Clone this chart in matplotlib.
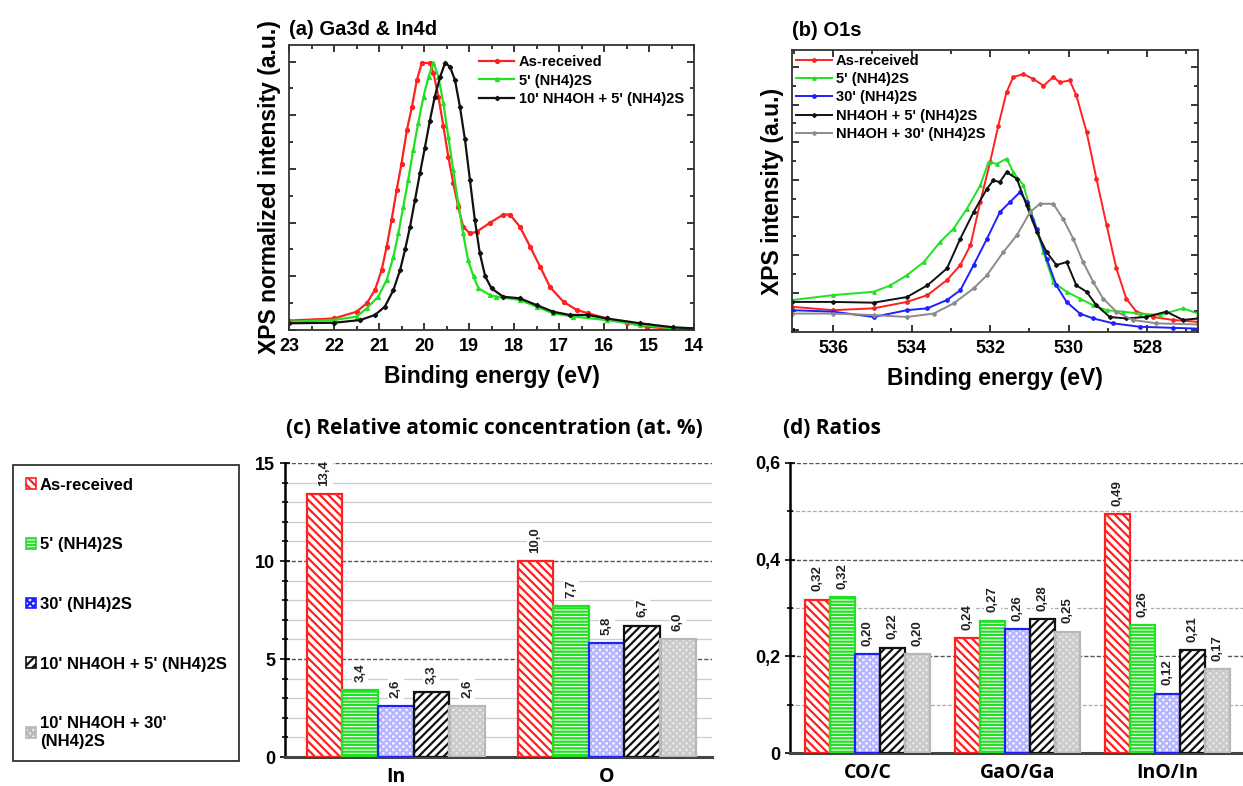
import numpy as np
import matplotlib
matplotlib.use('Agg')
import matplotlib.pyplot as plt
from matplotlib.patches import Patch
from matplotlib.ticker import MultipleLocator, FuncFormatter

plt.rcParams['font.family'] = ['Liberation Sans', 'DejaVu Sans']
plt.rcParams['font.weight'] = 'bold'
plt.rcParams['axes.labelweight'] = 'bold'
plt.rcParams['axes.titleweight'] = 'bold'
plt.rcParams['hatch.linewidth'] = 1.6

# ---- (a) Ga3d & In4d, normalized spectra ----
a_red_x = [23.0, 22.0, 21.5, 21.27, 21.09, 20.94, 20.83, 20.72, 20.61, 20.50, 20.38, 20.27,
           20.16, 20.05, 19.87, 19.79, 19.68, 19.57, 19.46, 19.35, 19.24, 19.13, 18.98, 18.83,
           18.53, 18.24, 18.09, 17.87, 17.64, 17.42, 17.2, 16.9, 16.61, 16.35, 15.94, 15.5,
           15.05, 14.46, 14.0]
a_red_y = [0.035, 0.043, 0.068, 0.10, 0.149, 0.224, 0.31, 0.41, 0.52, 0.62, 0.745, 0.83,
           0.93, 0.995, 0.995, 0.957, 0.87, 0.76, 0.646, 0.547, 0.46, 0.385, 0.36, 0.366,
           0.40, 0.43, 0.43, 0.385, 0.31, 0.236, 0.16, 0.105, 0.075, 0.062, 0.043, 0.027,
           0.012, 0.004, 0.002]
a_grn_x = [23.0, 22.0, 21.5, 21.27, 21.02, 20.83, 20.68, 20.57, 20.46, 20.35, 20.24, 20.13,
           20.01, 19.9, 19.79, 19.68, 19.57, 19.46, 19.35, 19.24, 19.13, 19.02, 18.9, 18.79,
           18.53, 18.39, 17.87, 17.5, 17.13, 16.68, 15.94, 15.2, 14.46, 14.0]
a_grn_y = [0.031, 0.037, 0.05, 0.081, 0.124, 0.186, 0.273, 0.36, 0.46, 0.56, 0.67, 0.77,
           0.87, 0.944, 0.996, 0.944, 0.845, 0.72, 0.596, 0.472, 0.36, 0.26, 0.20, 0.155,
           0.13, 0.124, 0.112, 0.087, 0.062, 0.05, 0.037, 0.019, 0.006, 0.006]
a_blk_x = [23.0, 22.0, 21.42, 21.09, 20.87, 20.68, 20.53, 20.42, 20.31, 20.2, 20.09, 19.98,
           19.87, 19.76, 19.64, 19.53, 19.42, 19.31, 19.2, 19.09, 18.98, 18.87, 18.76, 18.64,
           18.5, 18.24, 17.87, 17.5, 17.13, 16.76, 16.36, 15.94, 15.2, 14.46, 14.0]
a_blk_y = [0.025, 0.027, 0.037, 0.056, 0.087, 0.149, 0.224, 0.30, 0.385, 0.485, 0.584, 0.68,
           0.78, 0.87, 0.944, 0.996, 0.98, 0.93, 0.83, 0.71, 0.56, 0.41, 0.286, 0.20,
           0.155, 0.124, 0.118, 0.093, 0.068, 0.056, 0.056, 0.043, 0.025, 0.01, 0.006]

# ---- (b) O1s spectra ----
b_red_x = [537.04, 536.0, 534.97, 534.12, 533.6, 533.1, 532.76, 532.5, 532.25, 532.0, 531.79,
           531.58, 531.41, 531.15, 530.9, 530.64, 530.39, 530.22, 529.97, 529.8, 529.54,
           529.29, 529.03, 528.78, 528.53, 528.27, 527.85, 527.34, 526.7]
b_red_y = [0.62, 0.53, 0.58, 0.75, 0.93, 1.33, 1.73, 2.26, 3.41, 4.47, 5.44,
           6.33, 6.73, 6.81, 6.68, 6.50, 6.73, 6.59, 6.64, 6.24, 5.27,
           4.03, 2.79, 1.64, 0.84, 0.49, 0.35, 0.27, 0.22]
b_grn_x = [537.04, 536.0, 534.97, 534.54, 534.12, 533.69, 533.27, 532.93, 532.59, 532.25,
           532.04, 531.83, 531.58, 531.41, 531.15, 530.9, 530.64, 530.39, 530.05, 529.71,
           529.37, 529.03, 528.61, 528.19, 527.68, 527.08, 526.7]
b_grn_y = [0.80, 0.93, 1.02, 1.19, 1.46, 1.81, 2.35, 2.70, 3.23, 3.85,
           4.47, 4.42, 4.56, 4.20, 3.85, 2.96, 2.08, 1.28, 1.02, 0.84,
           0.66, 0.53, 0.49, 0.44, 0.40, 0.58, 0.44]
b_blu_x = [537.04, 536.0, 534.97, 534.12, 533.6, 533.1, 532.76, 532.42, 532.08, 531.75,
           531.49, 531.24, 531.07, 530.81, 530.56, 530.31, 530.05, 529.71, 529.37, 528.86,
           528.19, 527.34, 526.7]
b_blu_y = [0.53, 0.49, 0.35, 0.53, 0.58, 0.80, 1.06, 1.73, 2.43, 3.14,
           3.41, 3.67, 3.41, 2.70, 1.90, 1.19, 0.75, 0.44, 0.31, 0.18,
           0.09, 0.06, 0.04]
b_blk_x = [537.04, 536.0, 534.97, 534.12, 533.6, 533.1, 532.76, 532.42, 532.08, 531.92,
           531.75, 531.58, 531.32, 531.07, 530.81, 530.56, 530.31, 530.05, 529.8, 529.54,
           529.29, 528.95, 528.53, 528.02, 527.51, 527.08, 526.7]
b_blk_y = [0.75, 0.75, 0.73, 0.88, 1.19, 1.64, 2.43, 3.14, 3.76, 3.98,
           3.94, 4.20, 4.03, 3.32, 2.61, 2.08, 1.73, 1.81, 1.19, 1.02,
           0.66, 0.35, 0.31, 0.35, 0.49, 0.27, 0.31]
b_gry_x = [537.04, 536.0, 534.97, 534.12, 533.44, 532.93, 532.42, 532.08, 531.66, 531.32,
           530.98, 530.73, 530.39, 530.14, 529.88, 529.63, 529.37, 529.12, 528.78, 528.36,
           527.76, 526.7]
b_gry_y = [0.44, 0.44, 0.40, 0.35, 0.44, 0.71, 1.11, 1.46, 2.08, 2.52,
           3.14, 3.36, 3.36, 2.96, 2.43, 1.81, 1.28, 0.84, 0.49, 0.27,
           0.18, 0.15]

# ---- (c) relative atomic concentration (at. %) ----
conc_groups = ['In', 'O']
conc_asrec = [13.4, 10.0]
conc_5 = [3.4, 7.7]
conc_30 = [2.6, 5.8]
conc_nh5 = [3.3, 6.7]
conc_nh30 = [2.6, 6.0]

# ---- (d) ratios ----
ratio_groups = ['CO/C', 'GaO/Ga', 'InO/In']
ratio_asrec = [0.317, 0.237, 0.494]
ratio_5 = [0.323, 0.274, 0.264]
ratio_30 = [0.204, 0.256, 0.123]
ratio_nh5 = [0.218, 0.277, 0.213]
ratio_nh30 = [0.204, 0.251, 0.174]

treatments = ['As-received', "5' (NH4)2S", "30' (NH4)2S",
              "10' NH4OH + 5' (NH4)2S", "10' NH4OH + 30'\n(NH4)2S"]

RED, GREEN, BLUE, BLACK, GREY = '#ff2020', '#22e022', '#2020ff', '#111111', '#8c8c8c'

# bar look per treatment: face, hatch, hatch colour, outline
bar_styles = [
    dict(face='white', hatch='\\\\\\\\', hc=RED, edge=RED),
    dict(face='white', hatch='-----', hc=GREEN, edge=GREEN),
    dict(face='#f4f4ff', hatch='xxxxx', hc='#b4b4ff', edge=BLUE),
    dict(face='white', hatch='////', hc=BLACK, edge=BLACK),
    dict(face='#e6e6e6', hatch='xxxxx', hc='#cacaca', edge='#b8b8b8'),
]

fig = plt.figure(figsize=(12.43, 7.86), dpi=100)
W, H = 1243.0, 786.0


def px_axes(left, top, right, bottom):
    return fig.add_axes([left / W, 1 - bottom / H, (right - left) / W, (bottom - top) / H])


def spectrum_frame(ax):
    for s in ax.spines.values():
        s.set_linewidth(1.3)
        s.set_color('#333333')
    ax.tick_params(which='both', direction='in', top=True, right=True,
                   labelleft=False, labelsize=13, width=1.1, pad=6)
    ax.tick_params(which='major', length=5)
    ax.tick_params(which='minor', length=3)


# (a)
ax = px_axes(289, 45, 694, 330)
ax.plot(a_red_x, a_red_y, '-o', color=RED, ms=2.8, lw=1.6, label='As-received')
ax.plot(a_grn_x, a_grn_y, '-^', color=GREEN, ms=2.8, lw=1.6, label="5' (NH4)2S")
ax.plot(a_blk_x, a_blk_y, '-D', color=BLACK, ms=2.2, lw=1.6, label="10' NH4OH + 5' (NH4)2S")
ax.set_xlim(23, 14)
ax.set_ylim(0, 1.062)
ax.xaxis.set_major_locator(MultipleLocator(1))
ax.xaxis.set_minor_locator(MultipleLocator(0.5))
ax.yaxis.set_major_locator(MultipleLocator(0.2))
ax.yaxis.set_minor_locator(MultipleLocator(0.1))
spectrum_frame(ax)
ax.set_xlabel('Binding energy (eV)', fontsize=16.5, labelpad=7)
ax.set_ylabel('XPS normalized intensity (a.u.)', fontsize=16.5, labelpad=6)
ax.set_title('(a) Ga3d & In4d', loc='left', fontsize=14.5, pad=7)
ax.legend(loc='upper right', frameon=False, fontsize=10.5, handlelength=2.4,
          labelspacing=0.3, borderaxespad=0.3, handletextpad=0.3)

# (b)
ax = px_axes(792, 50, 1198, 332)
ax.plot(b_red_x, b_red_y, '-o', color=RED, ms=2.4, lw=1.4, label='As-received')
ax.plot(b_grn_x, b_grn_y, '-^', color=GREEN, ms=2.4, lw=1.4, label="5' (NH4)2S")
ax.plot(b_blu_x, b_blu_y, '-o', color=BLUE, ms=2.4, lw=1.4, label="30' (NH4)2S")
ax.plot(b_blk_x, b_blk_y, '-D', color=BLACK, ms=2.0, lw=1.4, label="NH4OH + 5' (NH4)2S")
ax.plot(b_gry_x, b_gry_y, '-D', color=GREY, ms=2.0, lw=1.4, label="NH4OH + 30' (NH4)2S")
ax.set_xlim(537.05, 526.7)
ax.set_ylim(-0.05, 7.45)
ax.xaxis.set_major_locator(MultipleLocator(2))
ax.xaxis.set_minor_locator(MultipleLocator(1))
ax.yaxis.set_major_locator(MultipleLocator(1))
ax.yaxis.set_minor_locator(MultipleLocator(0.5))
spectrum_frame(ax)
ax.set_xlabel('Binding energy (eV)', fontsize=16.5, labelpad=7)
ax.set_ylabel('XPS intensity (a.u.)', fontsize=16.5, labelpad=6)
ax.set_title('(b) O1s', loc='left', fontsize=14.5, pad=10)
ax.legend(loc='upper left', frameon=False, fontsize=10.5, handlelength=2.5,
          labelspacing=0.3, borderaxespad=0.15, borderpad=0.1, handletextpad=0.25)


def grouped_bars(ax, groups, series, width, fmt):
    x = np.arange(len(groups))
    for i, (vals, st) in enumerate(zip(series, bar_styles)):
        pos = x + (i - 2) * width
        ax.bar(pos, vals, width, color=st['face'], edgecolor=st['hc'],
               hatch=st['hatch'], linewidth=0, zorder=2)
        bars = ax.bar(pos, vals, width, fill=False, edgecolor=st['edge'],
                      linewidth=1.6, zorder=3)
        ax.bar_label(bars, labels=[fmt(v) for v in vals], rotation=90, padding=6,
                     fontsize=9.5, color='#222222', zorder=4,
                     bbox=dict(facecolor='white', edgecolor='none', pad=1.5))
    ax.set_xticks(x)
    ax.set_xticklabels(groups, family=['Open Sans', 'DejaVu Sans'], fontsize=14)
    ax.tick_params(axis='x', length=0, pad=7)
    ax.tick_params(axis='y', which='both', direction='inout', width=1.2, labelsize=13)
    ax.tick_params(axis='y', which='major', length=7)
    ax.tick_params(axis='y', which='minor', length=5)
    for s in ('top', 'right'):
        ax.spines[s].set_visible(False)
    ax.spines['left'].set_linewidth(1.8)
    ax.spines['bottom'].set_linewidth(2.2)
    ax.spines['bottom'].set_color('#444444')
    ax.set_axisbelow(True)


# (c)
ax = px_axes(285, 463, 712, 757)
grouped_bars(ax, conc_groups, [conc_asrec, conc_5, conc_30, conc_nh5, conc_nh30],
             0.169, lambda v: f'{v:.1f}'.replace('.', ','))
ax.set_xlim(-0.526, 1.50)
ax.set_ylim(0, 15)
ax.yaxis.set_major_locator(MultipleLocator(5))
ax.yaxis.set_minor_locator(MultipleLocator(1))
ax.grid(axis='y', which='major', ls=(0, (3, 1.5)), color='#555555', lw=1.0)
ax.grid(axis='y', which='minor', ls='-', color='#cccccc', lw=0.9)
ax.set_title('(c) Relative atomic concentration (at. %)', family=['Open Sans', 'DejaVu Sans'],
             fontsize=15, pad=21, x=0.49)

# (d)
ax = px_axes(790, 463, 1250, 753)
grouped_bars(ax, ratio_groups, [ratio_asrec, ratio_5, ratio_30, ratio_nh5, ratio_nh30],
             0.1667, lambda v: f'{v:.2f}'.replace('.', ','))
ax.set_xlim(-0.517, 2.55)
ax.set_ylim(0, 0.6)
ax.yaxis.set_major_locator(MultipleLocator(0.2))
ax.yaxis.set_minor_locator(MultipleLocator(0.1))
ax.yaxis.set_major_formatter(FuncFormatter(
    lambda v, p: '0' if abs(v) < 1e-9 else f'{v:.1f}'.replace('.', ',')))
ax.grid(axis='y', which='major', ls=(0, (3, 1.5)), color='#555555', lw=1.0)
ax.grid(axis='y', which='minor', ls=(0, (3, 1.5)), color='#aaaaaa', lw=0.9)
ax.set_title('(d) Ratios', family=['Open Sans', 'DejaVu Sans'], fontsize=15,
             loc='left', pad=21, x=-0.015)

# shared legend for the bar panels
handles = [Patch(facecolor=st['face'], edgecolor=st['edge'], hatch=st['hatch'], linewidth=1.2)
           for st in bar_styles]
leg = fig.legend(handles, treatments, loc='upper left',
                 bbox_to_anchor=(13 / W, 1 - 465 / H), borderaxespad=0,
                 fontsize=12, labelspacing=2.68, handlelength=0.6, handleheight=0.6,
                 handletextpad=0.25, borderpad=0.75, fancybox=False, framealpha=1)
leg.get_frame().set_edgecolor('#333333')
leg.get_frame().set_linewidth(1.3)

fig.savefig('out.png', dpi=100)
